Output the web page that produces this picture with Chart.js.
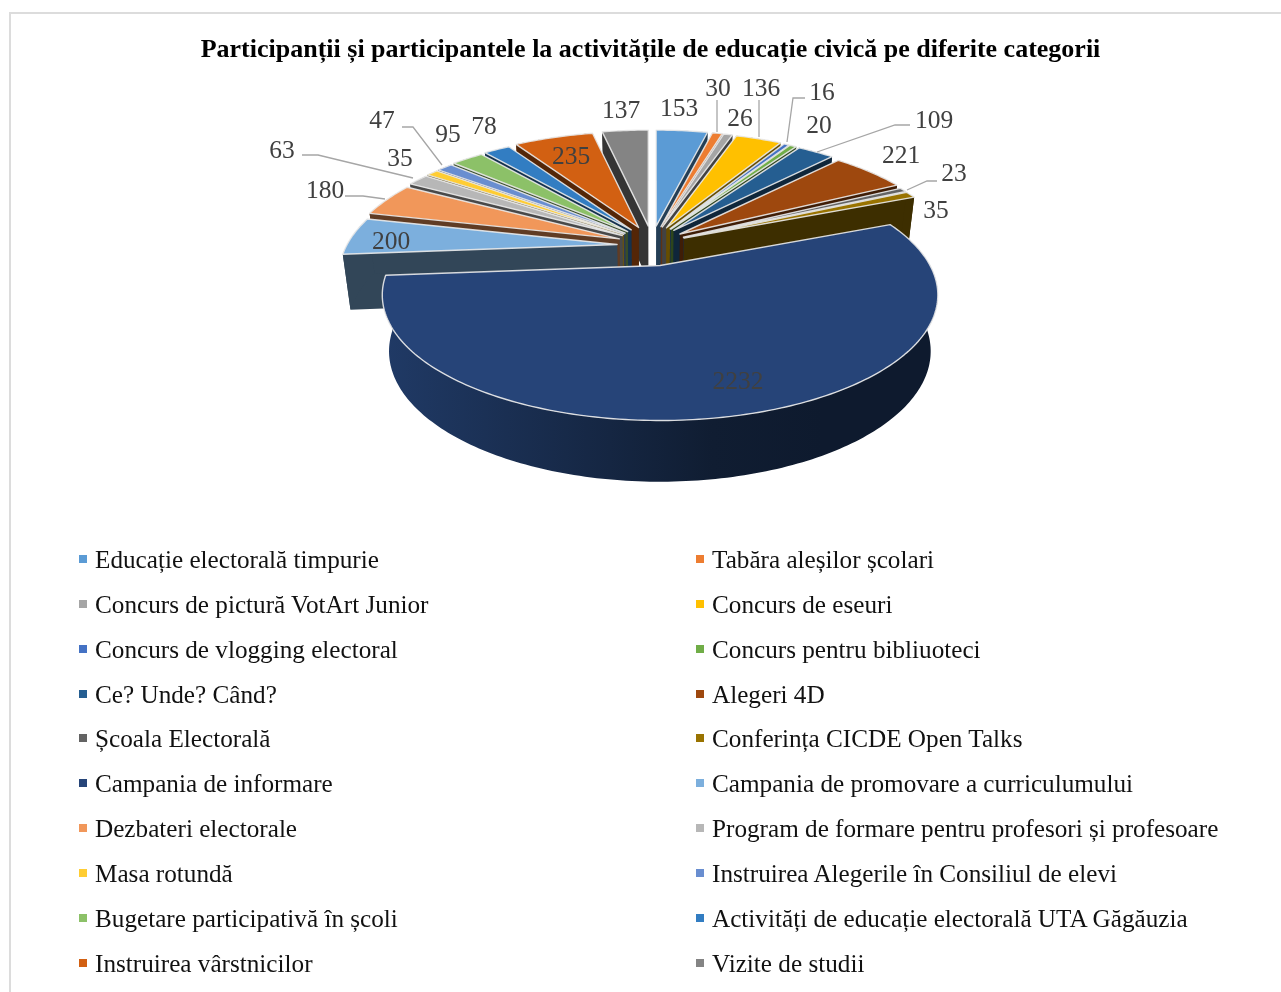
<!DOCTYPE html>
<html><head><meta charset="utf-8">
<style>
html,body{margin:0;padding:0;background:#fff;width:1281px;height:992px;overflow:hidden}
#wrap{position:relative;width:1281px;height:992px;overflow:hidden}
#frame{position:absolute;left:9px;top:12px;width:1300px;height:1010px;border:2px solid #dcdcdc;box-sizing:border-box;pointer-events:none}
canvas{position:absolute;left:0;top:0}
.li{position:absolute;font:25.2px "Liberation Serif",serif;color:#111;white-space:nowrap;line-height:30px;height:30px}
.sq{position:absolute;width:8px;height:8px}
</style>
<script src="https://cdn.jsdelivr.net/npm/chart.js@4/dist/chart.umd.js"></script>
</head><body><div id="wrap"><div id="frame"></div><canvas id="c" width="1281" height="992"></canvas><div id="legend"></div></div>
<script>
const chartTitle = "Participanții și participantele la activitățile de educație civică pe diferite categorii";
const categories = ["Educație electorală timpurie","Tabăra aleșilor școlari","Concurs de pictură VotArt Junior","Concurs de eseuri","Concurs de vlogging electoral","Concurs pentru bibliuoteci","Ce? Unde? Când?","Alegeri 4D","Școala Electorală","Conferința CICDE Open Talks","Campania de informare","Campania de promovare a curriculumului","Dezbateri electorale","Program de formare pentru profesori și profesoare","Masa rotundă","Instruirea Alegerile în Consiliul de elevi","Bugetare participativă în școli","Activități de educație electorală UTA Găgăuzia","Instruirea vârstnicilor","Vizite de studii"];
const values = [153,30,26,136,16,20,109,221,23,35,2232,200,180,63,35,47,95,78,235,137];
const colors = ["#5B9BD5","#ED7D31","#A5A5A5","#FFC000","#4472C4","#70AD47","#255E91","#9E480E","#636363","#997300","#264478","#7CAFDD","#F1975A","#B7B7B7","#FFCD33","#698ED0","#8CC168","#327DC2","#D26012","#848484"];
// label anchor points (text centres), same order as values
const labelX = [679,718,740,761,822,819,934,901,954,936,738,391,325,282,400,382,448,484,571,621];
const labelY = [109,89,119,89,93,126,121,156,174,211,382,242,191,151,159,121,135,127,157,111];
// leader lines, by slice index
const leaders = {
  1:[[717,100],[717,132]],
  3:[[759,100],[759,137]],
  4:[[805,98],[793,98],[787,142]],
  6:[[910,125],[895,125],[817,152]],
  8:[[937,181],[927,181],[907,190]],
  12:[[345,196],[363,196],[385,199]],
  13:[[302,155],[318,155],[413,178]],
  15:[[402,127],[413,127],[442,165]]
};
// projection of the pie disc
const P = {cx:652, cy:246, A:270, B:118.6, p:0.235, ex:35, ey:20, depth:55, shrink:0.975};

function shade(hex,f){
  const n=parseInt(hex.slice(1),16);
  return `rgb(${Math.round((n>>16&255)*f)},${Math.round((n>>8&255)*f)},${Math.round((n&255)*f)})`;
}
function proj(theta,r,phi){
  const u=r*Math.sin(theta), v=r*Math.cos(theta), w=1+P.p*v;
  const x=P.cx+P.ex*Math.sin(phi)+P.A*u/w;
  const y=P.cy-P.ey*Math.cos(phi)-P.B*v/w;
  return [x,y,w];
}
function low(pt){
  const d=P.depth*Math.pow(pt[2],-0.4);
  return [P.cx+(pt[0]-P.cx)*P.shrink, pt[1]+d];
}
function poly(ctx,pts){ctx.beginPath();pts.forEach((q,i)=>i?ctx.lineTo(q[0],q[1]):ctx.moveTo(q[0],q[1]));ctx.closePath();}

const pie3d = {
  id:'pie3d',
  beforeDatasetDraw(chart,args){
    const ctx=chart.ctx, arcs=chart.getDatasetMeta(args.index).data;
    const order=arcs.map((a,i)=>{
      const s=a.startAngle+Math.PI/2,e=a.endAngle+Math.PI/2;
      return {i,s,e,m:(s+e)/2};
    }).sort((a,b)=>Math.cos(b.m)-Math.cos(a.m));
    ctx.save();
    ctx.lineJoin='round';
    for(const o of order){
      const col=colors[o.i], span=o.e-o.s, n=Math.max(2,Math.ceil(span/(Math.PI/180)));
      const apex=proj(0,0,o.m), rim=[];
      for(let k=0;k<=n;k++) rim.push(proj(o.s+span*k/n,1,o.m));
      const lowApex=low(apex), lowRim=rim.map(low);
      // radial walls
      ctx.fillStyle=shade(col,0.4);
      for(const end of [rim[0],rim[n]]){
        poly(ctx,[apex,end,low(end),lowApex]);ctx.fill();
      }
      // outer rim wall: only the wide front slice shows a light falloff
      if(span>Math.PI/2){
        const g=ctx.createLinearGradient(P.cx-270,0,P.cx+170,0);
        g.addColorStop(0,shade(col,0.85));g.addColorStop(0.75,shade(col,0.42));g.addColorStop(1,shade(col,0.38));
        ctx.fillStyle=g;
      } else ctx.fillStyle=shade(col,0.4);
      poly(ctx,rim.concat(lowRim.slice().reverse()));ctx.fill();
      // top face
      poly(ctx,[apex].concat(rim));
      ctx.fillStyle=col;ctx.fill();
      ctx.strokeStyle='rgba(235,235,235,0.9)';ctx.lineWidth=1.4;ctx.stroke();
    }
    ctx.restore();
    return false;
  },
  afterDraw(chart){
    const ctx=chart.ctx;
    ctx.save();
    ctx.strokeStyle='#a6a6a6';ctx.lineWidth=1.3;
    for(const k in leaders){
      ctx.beginPath();leaders[k].forEach((q,i)=>i?ctx.lineTo(q[0],q[1]):ctx.moveTo(q[0],q[1]));ctx.stroke();
    }
    ctx.font='25.5px "Liberation Serif", serif';ctx.fillStyle='#404040';ctx.textAlign='center';ctx.textBaseline='middle';
    values.forEach((v,i)=>ctx.fillText(String(v),labelX[i],labelY[i]));
    ctx.restore();
  }
};

new Chart(document.getElementById('c'),{
  type:'pie',
  data:{labels:categories,datasets:[{data:values,backgroundColor:colors,borderWidth:0}]},
  options:{
    responsive:false,animation:false,
    layout:{padding:{left:20,right:0,top:0,bottom:0}},
    plugins:{
      legend:{display:false},tooltip:{enabled:false},
      title:{display:true,text:chartTitle,color:'#000',align:'center',
        font:{family:'"Liberation Serif", serif',size:26,weight:'bold'},padding:{top:34.6,bottom:0}}
    }
  },
  plugins:[pie3d]
});

// two-column legend
const lg=document.getElementById('legend');
const colSq=[79,696],colTx=[95,712],rowY=[560,605,650,695,739,784,829,874,919,964];
categories.forEach((t,i)=>{
  const c=i%2,r=Math.floor(i/2);
  const s=document.createElement('div');s.className='sq';s.style.left=colSq[c]+'px';s.style.top=(rowY[r]-5)+'px';s.style.background=colors[i];lg.appendChild(s);
  const d=document.createElement('div');d.className='li';d.style.left=colTx[c]+'px';d.style.top=(rowY[r]-15)+'px';d.textContent=t;lg.appendChild(d);
});
</script></body></html>
